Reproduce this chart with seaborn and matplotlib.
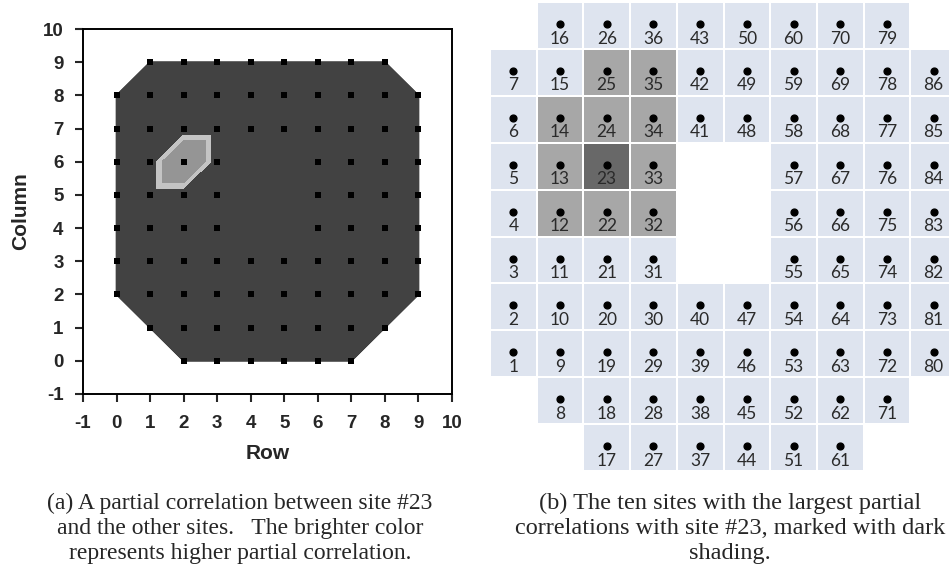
import numpy as np
import pandas as pd
import matplotlib
matplotlib.use("Agg")
import matplotlib.pyplot as plt
import matplotlib.tri as mtri
import seaborn as sns
from matplotlib.colors import ListedColormap

# site layout, top row first (0 = no site)
site_grid = [
    [0, 16, 26, 36, 43, 50, 60, 70, 79, 0],
    [7, 15, 25, 35, 42, 49, 59, 69, 78, 86],
    [6, 14, 24, 34, 41, 48, 58, 68, 77, 85],
    [5, 13, 23, 33, 0, 0, 57, 67, 76, 84],
    [4, 12, 22, 32, 0, 0, 56, 66, 75, 83],
    [3, 11, 21, 31, 0, 0, 55, 65, 74, 82],
    [2, 10, 20, 30, 40, 47, 54, 64, 73, 81],
    [1, 9, 19, 29, 39, 46, 53, 63, 72, 80],
    [0, 8, 18, 28, 38, 45, 52, 62, 71, 0],
    [0, 0, 17, 27, 37, 44, 51, 61, 0, 0],
]
target_site = 23
top_ten = [25, 35, 14, 24, 34, 13, 33, 12, 22, 32]
# partial correlation with site #23 (only the site itself stands out)
partial_corr = {23: 1.0}

axis_ticks = list(range(-1, 11))
corr_levels = [-0.05, 0.2, 0.36, 1.05]
corr_colors = ["#424242", "#c4c4c4", "#959595"]
cell_colors = ["#dee4ef", "#a7a7a7", "#686868"]

caption_a = ["(a) A partial correlation between site #23",
             "and the other sites.   The brighter color",
             "represents higher partial correlation."]
caption_b = ["(b) The ten sites with the largest partial",
             "correlations with site #23, marked with dark",
             "shading."]

nrows = len(site_grid)
recs = []
for r, row in enumerate(site_grid):
    for c, s in enumerate(row):
        if s:
            recs.append(dict(site=s, r=r, c=c, x=c, y=nrows - 1 - r,
                             pcorr=partial_corr.get(s, 0.0)))
df = pd.DataFrame(recs)

sns.set_style("ticks")
plt.rcParams["font.family"] = ["Liberation Sans", "DejaVu Sans"]
plt.rcParams["axes.unicode_minus"] = False

fig = plt.figure(figsize=(9.49, 5.77), dpi=100)
ax1 = fig.add_axes([83 / 949, 1 - 394 / 577, 369 / 949, 365 / 577])
ax2 = fig.add_axes([490 / 949, 1 - 471 / 577, 467 / 949, 469 / 577])

# ---- (a) contour map ----
idx = {(x, y): i for i, (x, y) in enumerate(zip(df.x, df.y))}
triangles = []
for x in range(nrows - 1):
    for y in range(nrows - 1):
        a, b, c, d = (x, y), (x + 1, y), (x, y + 1), (x + 1, y + 1)
        have = [p for p in (a, b, d, c) if p in idx]
        if len(have) == 4:
            triangles.append([idx[a], idx[b], idx[d]])
            triangles.append([idx[a], idx[d], idx[c]])
        elif len(have) == 3:
            triangles.append([idx[p] for p in have])
tri = mtri.Triangulation(df.x.values.astype(float), df.y.values.astype(float), triangles)

# convex hull of the sites (monotone chain)
pts = sorted(set(zip(df.x, df.y)))
def cross(o, a, b):
    return (a[0] - o[0]) * (b[1] - o[1]) - (a[1] - o[1]) * (b[0] - o[0])
lower, upper = [], []
for p in pts:
    while len(lower) >= 2 and cross(lower[-2], lower[-1], p) <= 0:
        lower.pop()
    lower.append(p)
for p in reversed(pts):
    while len(upper) >= 2 and cross(upper[-2], upper[-1], p) <= 0:
        upper.pop()
    upper.append(p)
hull = lower[:-1] + upper[:-1]

ax1.fill([p[0] for p in hull], [p[1] for p in hull], color=corr_colors[0],
         ec="#1c1c1c", lw=1.2, zorder=1)
ax1.tricontourf(tri, df["pcorr"].values, levels=corr_levels, colors=corr_colors, zorder=2)
sns.scatterplot(data=df, x="x", y="y", marker="s", color="black", s=16,
                linewidth=0, ax=ax1, zorder=3, legend=False)

ax1.set_xlim(-1, 10)
ax1.set_ylim(-1, 10)
ax1.set_xticks(axis_ticks)
ax1.set_yticks(axis_ticks)
ax1.tick_params(direction="out", length=6, width=1.5, labelsize=13.5, pad=5)
ax1.tick_params(axis="y", pad=8)
ax1.tick_params(axis="x", pad=9)
for lab in ax1.get_xticklabels() + ax1.get_yticklabels():
    lab.set_fontweight("bold")
for sp in ax1.spines.values():
    sp.set_visible(True)
    sp.set_linewidth(1.4)
    sp.set_color("black")
ax1.set_xlabel("Row", fontsize=15, fontweight="bold", labelpad=9)
ax1.set_ylabel("Column", fontsize=15, fontweight="bold", labelpad=9)

# ---- (b) site grid ----
codes = np.full((nrows, len(site_grid[0])), np.nan)
for s in df.itertuples():
    codes[s.r, s.c] = 2 if s.site == target_site else (1 if s.site in top_ten else 0)
sns.heatmap(codes, cmap=ListedColormap(cell_colors), vmin=-0.5, vmax=2.5, cbar=False,
            linewidths=1.2, linecolor="white", ax=ax2)
ax2.scatter(df.c + 0.5, df.r + 0.47, s=24, color="black", zorder=3)
for s in df.itertuples():
    ax2.text(s.c + 0.5, s.r + 0.78, str(s.site), ha="center", va="center",
             fontsize=12.5, color="#2a2a2a",
             family=["Lato", "DejaVu Sans"])
ax2.set_xlim(0, len(site_grid[0]))
ax2.set_ylim(nrows, 0)
ax2.axis("off")

# ---- captions ----
for i, line in enumerate(caption_a):
    fig.text(240 / 949, 1 - (503 + 25.5 * i) / 577, line, ha="center", va="center",
             fontsize=17, family=["Liberation Serif", "DejaVu Serif"])
for i, line in enumerate(caption_b):
    fig.text(730 / 949, 1 - (503 + 25.5 * i) / 577, line, ha="center", va="center",
             fontsize=17.5, family=["Liberation Serif", "DejaVu Serif"])

fig.savefig("out.png", dpi=100)
